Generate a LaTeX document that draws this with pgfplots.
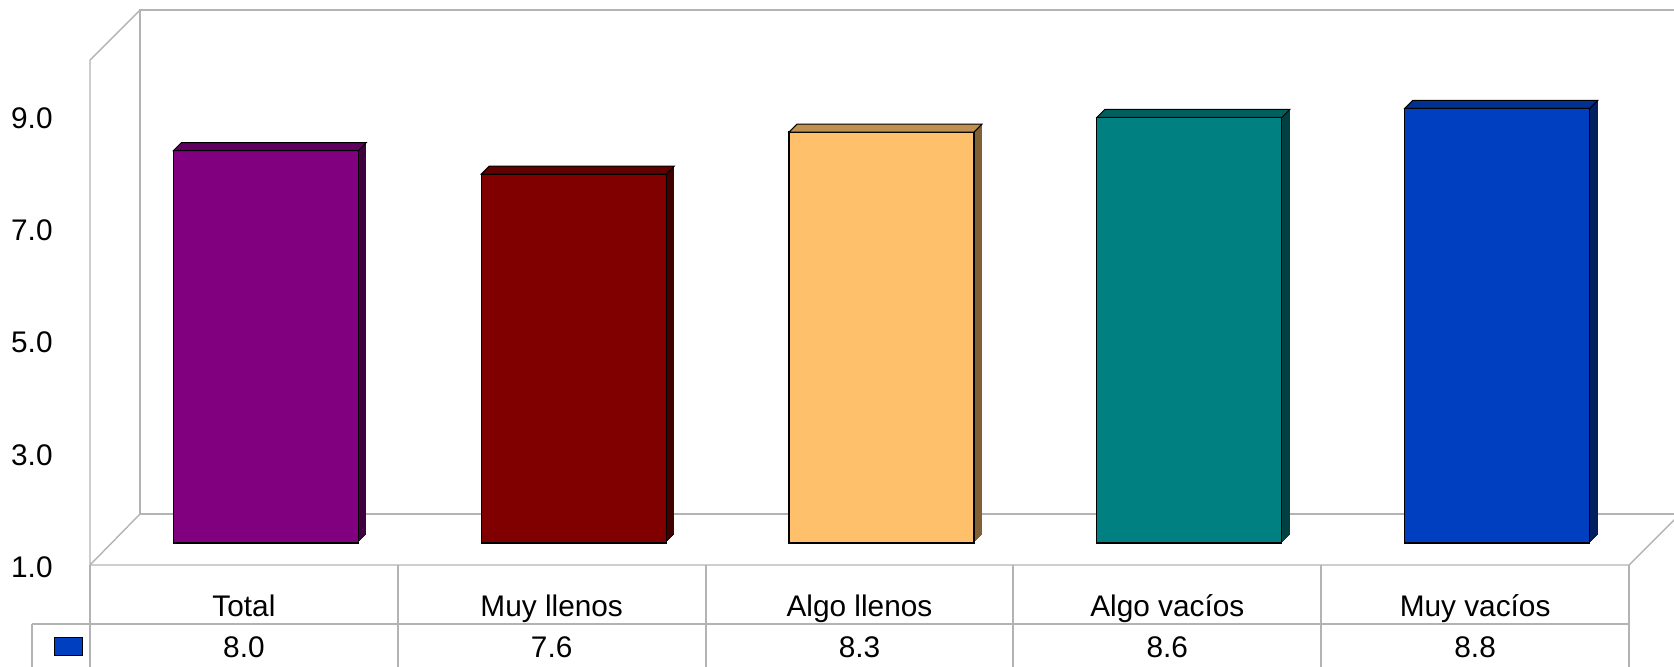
\documentclass[border=0pt]{standalone}
\usepackage{fontspec}
\setmainfont{Liberation Sans}
\usepackage{pgfplots}
\usepackage{pgfplotstable}
\pgfplotsset{compat=1.18}

\definecolor{wallgray}{HTML}{B3B3B3}
\definecolor{fA}{HTML}{800080}\definecolor{tA}{HTML}{600060}\definecolor{sA}{HTML}{400040}
\definecolor{fB}{HTML}{800000}\definecolor{tB}{HTML}{600000}\definecolor{sB}{HTML}{400000}
\definecolor{fC}{HTML}{FFC06B}\definecolor{tC}{HTML}{C09050}\definecolor{sC}{HTML}{806035}
\definecolor{fD}{HTML}{008080}\definecolor{tD}{HTML}{006060}\definecolor{sD}{HTML}{004040}
\definecolor{fE}{HTML}{0040C0}\definecolor{tE}{HTML}{003090}\definecolor{sE}{HTML}{002060}

% bar heights as read from the picture
\pgfplotstableread{
i v
0 7.98
1 7.56
2 8.31
3 8.57
4 8.73
}\data

\pgfdeclareplotmark{topface}{%
  \pgfpathmoveto{\pgfqpoint{-46.25pt}{0pt}}%
  \pgfpathlineto{\pgfqpoint{46.25pt}{0pt}}%
  \pgfpathlineto{\pgfqpoint{50.25pt}{4pt}}%
  \pgfpathlineto{\pgfqpoint{-42.25pt}{4pt}}%
  \pgfpathclose
  \pgfusepathqfillstroke}

\newcommand\sidecopy[3]{%
  \addplot[ybar, bar width=92.5pt, bar shift=0pt, fill=#2, draw=none,
    xshift=#3, yshift=#3, restrict x to domain=#1:#1, forget plot]
    table[x=i, y expr=\thisrow{v}-1]{\data};}
\newcommand\onebar[4]{%
  \sidecopy{#1}{#4}{11.5pt}\sidecopy{#1}{#4}{12pt}\sidecopy{#1}{#4}{12.5pt}\sidecopy{#1}{#4}{13pt}%
  \sidecopy{#1}{#4}{13.5pt}\sidecopy{#1}{#4}{14pt}\sidecopy{#1}{#4}{14.5pt}\sidecopy{#1}{#4}{15pt}%
  \addplot[ybar, bar width=92.5pt, bar shift=0pt, fill=#2, draw=black, line width=0.6pt,
    xshift=11pt, yshift=11pt, restrict x to domain=#1:#1, forget plot]
    table[x=i, y expr=\thisrow{v}-1]{\data};
  \addplot[only marks, mark=topface, mark options={fill=#3, draw=black, line width=0.5pt},
    xshift=11pt, yshift=11pt, restrict x to domain=#1:#1, forget plot]
    table[x=i, y expr=\thisrow{v}-1]{\data};}

\begin{document}
\begin{tikzpicture}
\begin{scope}[x=0.5pt,y=-0.5pt]
\path[use as bounding box] (0,0) rectangle (1674,666);
\begin{scope}[draw=wallgray, line width=0.7pt]
  % back wall
  \draw (1690,10) -- (140,10) -- (140,514) -- (1690,514);
  % left wall
  \draw (140,10) -- (90,60) -- (90,565) -- (140,514);
  % floor front and right
  \draw (90,565) -- (1629,565) -- (1690,504);
  % data table
  \draw (32,624) -- (1629,624);
  \draw (32,624) -- (32,680);
  \foreach \xx in {90,398,706,1013,1321,1629} {\draw (\xx,565) -- (\xx,680);}
\end{scope}
\draw[fill=fE, draw=black, line width=0.4pt] (54,637) rectangle (82,655);
\end{scope}

\begin{axis}[
  at={(45pt,-282.5pt)}, anchor=south west,
  scale only axis, width=769.5pt, height=253pt,
  xmin=-0.5, xmax=4.5, ymin=0, ymax=9,
  clip=false,
  axis line style={draw=none},
  major tick length=0pt,
  ytick={0,2,4,6,8},
  yticklabels={1.0,3.0,5.0,7.0,9.0},
  yticklabel style={anchor=east, inner sep=0pt, xshift=-18.5pt, yshift=-1.3pt},
  xtick={0,1,2,3,4},
  xticklabels={Total,Muy llenos,Algo llenos,Algo vacíos,Muy vacíos},
  xticklabel style={anchor=base, inner sep=0pt, yshift=-25.85pt},
  extra x ticks={0,1,2,3,4},
  extra x tick labels={8.0,7.6,8.3,8.6,8.8},
  extra x tick style={xticklabel style={yshift=-20.15pt}},
  ticklabel style={font=\fontsize{14.9}{17}\selectfont},
]
\onebar{0}{fA}{tA}{sA}
\onebar{1}{fB}{tB}{sB}
\onebar{2}{fC}{tC}{sC}
\onebar{3}{fD}{tD}{sD}
\onebar{4}{fE}{tE}{sE}
\end{axis}
\end{tikzpicture}
\end{document}
